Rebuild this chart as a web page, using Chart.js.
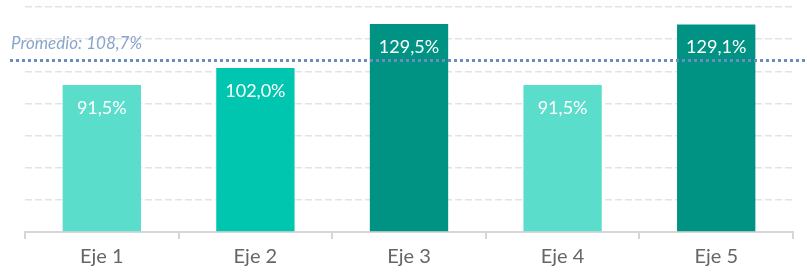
<!DOCTYPE html>
<html>
<head>
<meta charset="utf-8">
<script src="https://cdn.jsdelivr.net/npm/chart.js@4"></script>
<style>
  html, body { margin: 0; padding: 0; background: #fff; }
  .wrap { width: 807px; height: 275px; }
</style>
</head>
<body>
<div class="wrap"><canvas class="js-chart"></canvas></div>
<script>
const labels = ['Eje 1', 'Eje 2', 'Eje 3', 'Eje 4', 'Eje 5'];
const values = [91.5, 102.0, 129.5, 91.5, 129.1];
const barColors = ['#5bddcb', '#00c6b0', '#009383', '#5bddcb', '#009383'];
const average = 108.7;
const yTicks = [0, 20, 40, 60, 80, 100, 120, 140];

const fmt = v => v.toFixed(1).replace('.', ',') + '%';

const barLabels = {
  id: 'barLabels',
  afterDatasetsDraw(chart) {
    const { ctx } = chart;
    const meta = chart.getDatasetMeta(0);
    ctx.save();
    ctx.fillStyle = '#ffffff';
    ctx.font = '18px Lato';
    ctx.textAlign = 'center';
    ctx.textBaseline = 'middle';
    meta.data.forEach((bar, i) => {
      ctx.fillText(fmt(values[i]), bar.x, bar.y + 23);
    });
    ctx.restore();
  },
};

const averageLine = {
  id: 'averageLine',
  afterDatasetsDraw(chart) {
    const { ctx, scales } = chart;
    // line sits a touch below the exact value in the original
    const y = Math.round(scales.y.getPixelForValue(average)) + 3;
    ctx.save();
    ctx.strokeStyle = '#6c8cbd';
    ctx.lineWidth = 3;
    ctx.setLineDash([3, 3]);
    ctx.beginPath();
    ctx.moveTo(10, y + 0.5);
    ctx.lineTo(chart.width, y + 0.5);
    ctx.stroke();
    ctx.setLineDash([]);
    ctx.fillStyle = '#8aa5cb';
    ctx.font = 'italic 17px Lato';
    ctx.textAlign = 'left';
    ctx.textBaseline = 'middle';
    ctx.fillText('Promedio: ' + fmt(average), 11, y - 16);
    ctx.restore();
  },
};

new Chart(document.querySelector('.js-chart').getContext('2d'), {
  type: 'bar',
  data: {
    labels,
    datasets: [
      {
        data: values,
        backgroundColor: barColors,
        borderWidth: 0,
        barPercentage: 0.51,
        categoryPercentage: 1,
      },
    ],
  },
  options: {
    responsive: true,
    maintainAspectRatio: false,
    animation: false,
    layout: { padding: { left: 25, right: 14, top: 7, bottom: 0 } },
    plugins: {
      legend: { display: false },
      tooltip: { enabled: false },
    },
    scales: {
      x: {
        grid: {
          offset: true,
          drawOnChartArea: false,
          drawTicks: true,
          tickLength: 7,
          color: '#d6d6d6',
          lineWidth: 2,
        },
        border: { display: true, color: '#d6d6d6', width: 2 },
        ticks: {
          color: '#666666',
          font: { family: 'Lato', size: 20 },
          padding: 6,
        },
      },
      y: {
        display: true,
        min: 0,
        max: 140,
        afterBuildTicks: axis => {
          axis.ticks = yTicks.map(value => ({ value }));
        },
        ticks: { display: false },
        border: { display: false, dash: [7, 3] },
        grid: {
          color: ctx => (ctx.tick.value === 0 ? 'rgba(0,0,0,0)' : '#e3e3e3'),
          lineWidth: 1.5,
          drawTicks: false,
        },
      },
    },
  },
  plugins: [averageLine, barLabels],
});
</script>
</body>
</html>
